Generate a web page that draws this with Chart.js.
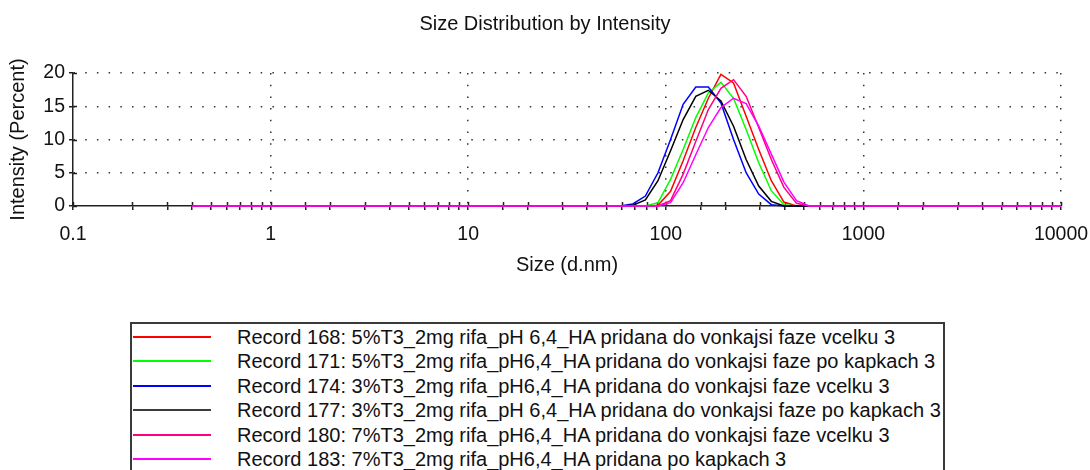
<!DOCTYPE html>
<html>
<head>
<meta charset="utf-8">
<script src="https://cdn.jsdelivr.net/npm/chart.js@4.4.1/dist/chart.umd.min.js"></script>
<style>
    body { margin: 0; background: #fff; overflow: hidden; font-family: "Liberation Sans", Arial, sans-serif; }
    #wrap { position: absolute; left: 0; top: 0; width: 1090px; height: 290px; }
    #legend { position: absolute; left: 130px; top: 322px; width: 815px; height: 200px; box-sizing: border-box;
              border: 2px solid #3a3a3a; padding-top: 1px; background: #fff; }
    .row { position: relative; height: 24.4px; line-height: 24.4px; white-space: nowrap; font-size: 20px; color: #111; }
    .swatch { position: absolute; left: 1px; top: 11px; width: 78px; height: 2px; }
    .label { position: absolute; left: 105px; top: 0; }
</style>
</head>
<body>
<div id="wrap"><canvas id="sizeChart" width="1090" height="290"></canvas></div>
<div id="legend"></div>
<script>
// Zetasizer size bins (d.nm)
const sizes = [
    0.4000, 0.4632, 0.5365, 0.6213, 0.7195, 0.8332, 0.9649, 1.117, 1.294, 1.499,
    1.736, 2.010, 2.328, 2.696, 3.122, 3.615, 4.187, 4.849, 5.615, 6.503,
    7.531, 8.721, 10.10, 11.70, 13.54, 15.69, 18.17, 21.04, 24.36, 28.21,
    32.67, 37.84, 43.82, 50.75, 58.77, 68.06, 78.82, 91.28, 105.7, 122.4,
    141.8, 164.2, 190.1, 220.2, 255.0, 295.3, 342.0, 396.1, 458.7, 531.2,
    615.1, 712.4, 825.0, 955.4, 1106, 1281, 1484, 1718, 1990, 2305,
    2669, 3091, 3580, 4145, 4801, 5560, 6439, 7456, 8635, 10000
];

// intensity (percent) per bin, one array per record
const rec168 = [
    0, 0, 0, 0, 0, 0, 0, 0, 0, 0,
    0, 0, 0, 0, 0, 0, 0, 0, 0, 0,
    0, 0, 0, 0, 0, 0, 0, 0, 0, 0,
    0, 0, 0, 0, 0, 0, 0, 0.1, 2.2, 6.8,
    11.8, 16.2, 19.8, 18.5, 13.5, 8.5, 3.8, 0.6, 0, 0,
    0, 0, 0, 0, 0, 0, 0, 0, 0, 0,
    0, 0, 0, 0, 0, 0, 0, 0, 0, 0
];
const rec171 = [
    0, 0, 0, 0, 0, 0, 0, 0, 0, 0,
    0, 0, 0, 0, 0, 0, 0, 0, 0, 0,
    0, 0, 0, 0, 0, 0, 0, 0, 0, 0,
    0, 0, 0, 0, 0, 0, 0, 0.5, 4.0, 8.5,
    13.3, 17.0, 18.6, 16.2, 11.5, 6.5, 2.3, 0.2, 0, 0,
    0, 0, 0, 0, 0, 0, 0, 0, 0, 0,
    0, 0, 0, 0, 0, 0, 0, 0, 0, 0
];
const rec174 = [
    0, 0, 0, 0, 0, 0, 0, 0, 0, 0,
    0, 0, 0, 0, 0, 0, 0, 0, 0, 0,
    0, 0, 0, 0, 0, 0, 0, 0, 0, 0,
    0, 0, 0, 0, 0, 0.3, 1.5, 5.0, 10.0, 15.3,
    17.9, 17.9, 15.5, 10.0, 5.0, 1.8, 0.2, 0, 0, 0,
    0, 0, 0, 0, 0, 0, 0, 0, 0, 0,
    0, 0, 0, 0, 0, 0, 0, 0, 0, 0
];
const rec177 = [
    0, 0, 0, 0, 0, 0, 0, 0, 0, 0,
    0, 0, 0, 0, 0, 0, 0, 0, 0, 0,
    0, 0, 0, 0, 0, 0, 0, 0, 0, 0,
    0, 0, 0, 0, 0, 0.1, 0.9, 3.8, 8.3, 13.0,
    16.5, 17.4, 15.8, 12.0, 7.0, 3.0, 0.7, 0, 0, 0,
    0, 0, 0, 0, 0, 0, 0, 0, 0, 0,
    0, 0, 0, 0, 0, 0, 0, 0, 0, 0
];
const rec180 = [
    0, 0, 0, 0, 0, 0, 0, 0, 0, 0,
    0, 0, 0, 0, 0, 0, 0, 0, 0, 0,
    0, 0, 0, 0, 0, 0, 0, 0, 0, 0,
    0, 0, 0, 0, 0, 0, 0, 0, 0.8, 4.8,
    9.7, 14.5, 17.7, 19.0, 16.5, 11.8, 7.0, 2.8, 0.4, 0,
    0, 0, 0, 0, 0, 0, 0, 0, 0, 0,
    0, 0, 0, 0, 0, 0, 0, 0, 0, 0
];
const rec183 = [
    0, 0, 0, 0, 0, 0, 0, 0, 0, 0,
    0, 0, 0, 0, 0, 0, 0, 0, 0, 0,
    0, 0, 0, 0, 0, 0, 0, 0, 0, 0,
    0, 0, 0, 0, 0, 0, 0, 0, 0.5, 3.5,
    7.7, 11.8, 14.8, 16.2, 15.4, 12.0, 7.8, 3.6, 0.8, 0,
    0, 0, 0, 0, 0, 0, 0, 0, 0, 0,
    0, 0, 0, 0, 0, 0, 0, 0, 0, 0
];

const recordNames = [
    'Record 168: 5%T3_2mg rifa_pH 6,4_HA pridana do vonkajsi faze vcelku 3',
    'Record 171: 5%T3_2mg rifa_pH6,4_HA pridana do vonkajsi faze po kapkach 3',
    'Record 174: 3%T3_2mg rifa_pH6,4_HA pridana do vonkajsi faze vcelku 3',
    'Record 177: 3%T3_2mg rifa_pH 6,4_HA pridana do vonkajsi faze po kapkach 3',
    'Record 180: 7%T3_2mg rifa_pH6,4_HA pridana do vonkajsi faze vcelku 3',
    'Record 183: 7%T3_2mg rifa_pH6,4_HA pridana po kapkach 3'
];
const records = [rec168, rec171, rec174, rec177, rec180, rec183];
const colors = ['#ff0000', '#00ff00', '#0000ff', '#000000', '#ff0080', '#ff00ff'];

const yTicks = [0, 5, 10, 15, 20];
const xTicks = [0.1, 1, 10, 100, 1000, 10000];

const isDecade = v => xTicks.some(t => Math.abs(t - v) < t * 1e-6);
const textColor = '#111';
const font = { family: '"Liberation Sans", Arial, sans-serif', size: 19.5 };
const titleFont = { family: '"Liberation Sans", Arial, sans-serif', size: 20 };

// small tick marks on the inside of the axes, like the original plot
const innerTicks = {
    id: 'innerTicks',
    beforeDatasetsDraw(chart) {
        const { ctx, chartArea, scales } = chart;
        ctx.save();
        ctx.strokeStyle = '#222';
        ctx.lineWidth = 1.5;
        ctx.beginPath();
        scales.x.ticks.forEach(t => {
            const px = Math.round(scales.x.getPixelForValue(t.value)) + 0.5;
            ctx.moveTo(px, chartArea.bottom);
            ctx.lineTo(px, chartArea.bottom - 4);
        });
        scales.y.ticks.forEach(t => {
            const py = Math.round(scales.y.getPixelForValue(t.value)) + 0.5;
            ctx.moveTo(chartArea.left, py);
            ctx.lineTo(chartArea.left + 4, py);
        });
        ctx.stroke();
        ctx.restore();
    }
};

const datasets = records.map((vals, i) => ({
    label: recordNames[i],
    data: sizes.map((s, k) => ({ x: s, y: vals[k] })),
    borderColor: colors[i],
    backgroundColor: colors[i],
    borderWidth: 1.5,
    pointRadius: 0,
    tension: 0,
    clip: 4,
    order: records.length - i
}));

new Chart(document.getElementById('sizeChart'), {
    type: 'line',
    data: { datasets: datasets },
    options: {
        responsive: false,
        animation: false,
        layout: { padding: 0 },
        plugins: {
            legend: { display: false },
            tooltip: { enabled: false },
            title: {
                display: true,
                text: 'Size Distribution by Intensity',
                color: textColor,
                font: { ...titleFont, weight: 'normal' },
                padding: { top: 12.5, bottom: 36.5 }
            }
        },
        scales: {
            x: {
                type: 'logarithmic',
                min: 0.1,
                max: 10000,
                afterFit: scale => {
                    scale.height = 84;
                    scale.paddingLeft = 0;
                    scale.paddingRight = 29;
                },
                title: {
                    display: true,
                    text: 'Size (d.nm)',
                    color: textColor,
                    font: titleFont,
                    padding: { top: 0, bottom: 13 }
                },
                ticks: {
                    color: textColor,
                    font: font,
                    autoSkip: false,
                    maxRotation: 0,
                    padding: 13,
                    callback: value => isDecade(value) ? String(value) : ''
                },
                grid: {
                    color: c => (c.tick && isDecade(c.tick.value) && c.tick.value > 0.1) ? '#333' : 'rgba(0,0,0,0)',
                    lineWidth: 1.5,
                    tickColor: '#222',
                    tickLength: 4
                },
                border: { display: true, color: '#222', width: 1.5, dash: [1.5, 10.2] }
            },
            y: {
                min: 0,
                max: 20,
                afterFit: scale => { scale.width = 73; },
                title: {
                    display: true,
                    text: 'Intensity (Percent)',
                    color: textColor,
                    font: titleFont,
                    padding: { top: 6, bottom: 0 }
                },
                ticks: {
                    color: textColor,
                    font: font,
                    stepSize: 2.5,
                    padding: 4,
                    callback: value => yTicks.includes(value) ? String(value) : ''
                },
                grid: {
                    color: c => (c.tick && c.tick.value > 0 && yTicks.includes(c.tick.value)) ? '#333' : 'rgba(0,0,0,0)',
                    lineWidth: 1.5,
                    tickColor: '#222',
                    tickLength: 4
                },
                border: { display: true, color: '#222', width: 1.5, dash: [1.5, 10.2] }
            }
        }
    },
    plugins: [innerTicks]
});

// legend box below the plot
const legend = document.getElementById('legend');
recordNames.forEach((name, i) => {
    const row = document.createElement('div');
    row.className = 'row';
    const sw = document.createElement('span');
    sw.className = 'swatch';
    sw.style.background = i === 3 ? '#3c3c3c' : colors[i];
    const lab = document.createElement('span');
    lab.className = 'label';
    lab.textContent = name;
    row.appendChild(sw);
    row.appendChild(lab);
    legend.appendChild(row);
});
</script>
</body>
</html>
